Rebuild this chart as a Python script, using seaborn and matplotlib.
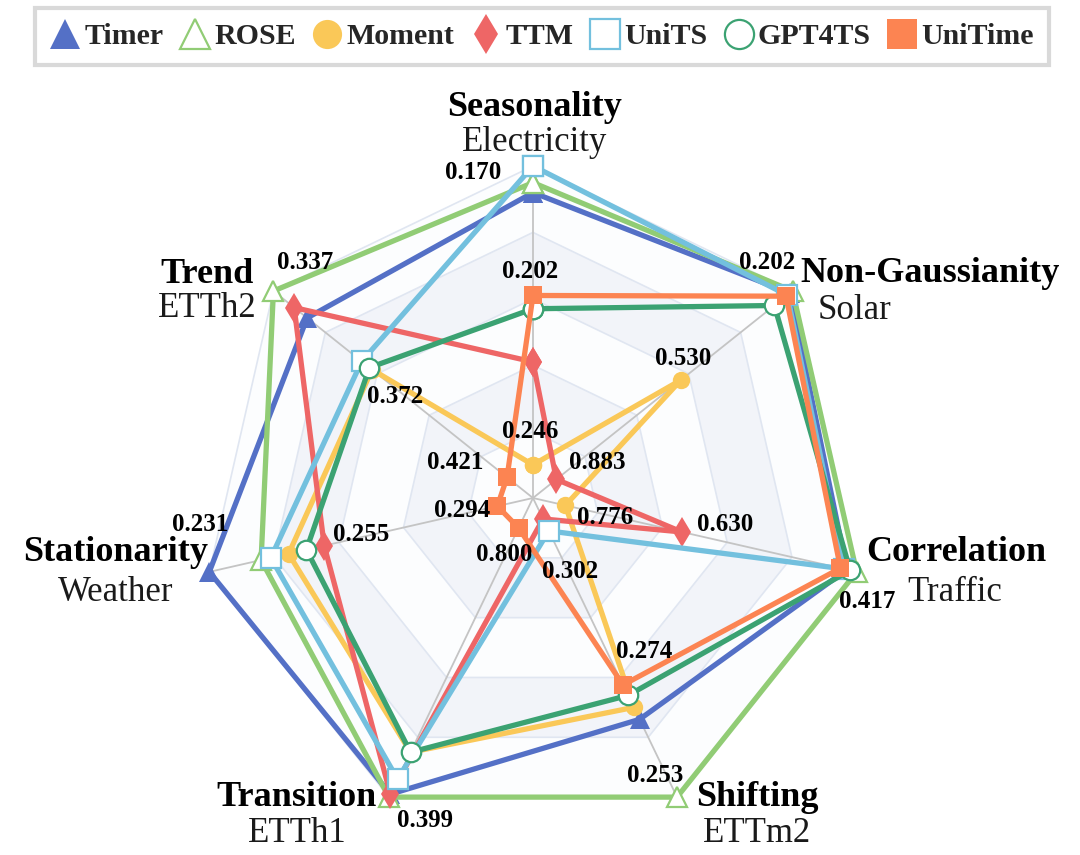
import numpy as np
import pandas as pd
import seaborn as sns
import matplotlib.pyplot as plt
from matplotlib.lines import Line2D

# axes of the radar, clockwise from the top
dims = ["Seasonality", "Non-Gaussianity", "Correlation", "Shifting",
        "Transition", "Stationarity", "Trend"]
datasets = ["Electricity", "Solar", "Traffic", "ETTm2", "ETTh1", "Weather", "ETTh2"]

# normalised score per axis (1 = best, outer ring)
models = ["Timer", "ROSE", "Moment", "TTM", "UniTS", "GPT4TS", "UniTime"]
timer = [0.92, 0.99, 0.97, 0.74, 0.99, 1.00, 0.87]
rose = [0.95, 1.00, 1.00, 1.00, 1.00, 0.84, 1.00]
moment = [0.10, 0.57, 0.10, 0.70, 0.85, 0.755, 0.62]
ttm = [0.41, 0.09, 0.46, 0.07, 0.99, 0.645, 0.92]
units = [1.00, 0.98, 0.96, 0.11, 0.94, 0.81, 0.66]
gpt4ts = [0.57, 0.93, 0.98, 0.66, 0.85, 0.70, 0.63]
unitime = [0.61, 0.975, 0.95, 0.625, 0.10, 0.11, 0.10]
scores = [timer, rose, moment, ttm, units, gpt4ts, unitime]

# MSE labels shown on each axis
tick_text = [
    ["0.170", "0.202", "0.246"],
    ["0.202", "0.530", "0.883"],
    ["0.417", "0.630", "0.776"],
    ["0.253", "0.274", "0.302"],
    ["0.399", "0.800"],
    ["0.231", "0.255", "0.294"],
    ["0.337", "0.372", "0.421"],
]
# where each label sits: radius on its axis + pixel offset
tick_pos = [
    [(1.0, -60, -6), (0.61, -3, 24), (0.10, -3, 33)],
    [(1.0, -25, 29), (0.57, 2, 22), (0.09, 41, 17)],
    [(1.0, 11, -30), (0.46, 43, 7), (0.10, 40, -12)],
    [(1.0, -22, 22), (0.625, 21, 33), (0.11, 21, -41)],
    [(1.0, 36, -23), (0.10, -14, -27)],
    [(1.0, -9, 47), (0.645, 37, 11), (0.11, -35, -4)],
    [(1.0, 32, 29), (0.63, 26, -29), (0.10, -52, 15)],
]
# axis name offsets (bold line, dataset line) from the outer vertex, pixels
name_pos = [
    ((2, 59), (2, 24)),
    ((138, 18), (62, -19)),
    ((100, 19), (98, -21)),
    ((80, 0), (80, -36)),
    ((-92, 0), (-92, -36)),
    ((-94, 19), (-94, -21)),
    ((-66, 17), (-66, -17)),
]

colors = ["#5470c6", "#91cc75", "#fac858", "#ee6666", "#73c0de", "#3ba272", "#fc8452"]
markers = ["^", "^", "o", "d", "s", "o", "s"]
hollow = [False, True, False, False, True, True, False]

sns.set_theme(style="white")
plt.rcParams["font.family"] = ["Liberation Serif", "DejaVu Serif"]

fig = plt.figure(figsize=(10.8, 8.55), dpi=100)
ax = fig.add_axes([0.1861, 0.02924, 0.6148, 0.7766], projection="polar")
ax.set_theta_offset(np.pi / 2)
ax.set_theta_direction(-1)

n = len(dims)
angles = np.linspace(0, 2 * np.pi, n, endpoint=False)
closed = np.append(angles, 2 * np.pi)

# background bands and rings
levels = [0.2, 0.4, 0.6, 0.8, 1.0]
band = ["#fcfdfe", "#f2f4f9"]
for i in range(len(levels) - 1, -1, -1):
    ax.fill(closed, [levels[i]] * (n + 1), color=band[i % 2], lw=0, zorder=0)
for lv in levels:
    ax.plot(closed, [lv] * (n + 1), color="#e0e6f1", lw=1.2, zorder=1)
for a in angles:
    ax.plot([a, a], [0, 1], color="#c4c4c4", lw=1.3, zorder=1)

for i, (name, vals) in enumerate(zip(models, scores)):
    df = pd.DataFrame({"theta": closed, "r": vals + [vals[0]]})
    ms = 14 if hollow[i] else 12.5
    if markers[i] == "^":
        ms = 15
    if markers[i] == "d":
        ms = 15.5
    sns.lineplot(data=df, x="theta", y="r", ax=ax, sort=False, estimator=None,
                 color=colors[i], linewidth=3.8, marker=markers[i], markersize=ms,
                 markerfacecolor="white" if hollow[i] else colors[i],
                 markeredgecolor=colors[i], markeredgewidth=1.6 if hollow[i] else 0,
                 clip_on=False, zorder=3 + i, legend=False)

ax.set_ylim(0, 1)
ax.axis("off")

# tick values
for k in range(n):
    for txt, (r, dx, dy) in zip(tick_text[k], tick_pos[k]):
        ax.annotate(txt, (angles[k], r), xytext=(dx, dy), textcoords="offset pixels",
                    ha="center", va="center", fontsize=18, fontweight="bold",
                    color="black", zorder=20, annotation_clip=False)

# axis names
for k in range(n):
    (bx, by), (sx, sy) = name_pos[k]
    ax.annotate(dims[k], (angles[k], 1.0), xytext=(bx, by), textcoords="offset pixels",
                ha="center", va="center", fontsize=26, fontweight="bold",
                color="black", zorder=20, annotation_clip=False)
    ax.annotate(datasets[k], (angles[k], 1.0), xytext=(sx, sy), textcoords="offset pixels",
                ha="center", va="center", fontsize=25, color="#1a1a1a",
                zorder=20, annotation_clip=False)

# legend
handles = [Line2D([], [], ls="none", marker=markers[i], markersize=21 if markers[i] != "d" else 20,
                  markerfacecolor="white" if hollow[i] else colors[i],
                  markeredgecolor=colors[i], markeredgewidth=1.6 if hollow[i] else 0)
           for i in range(len(models))]
leg = fig.legend(handles, models, loc="center", bbox_to_anchor=(0.502, 0.957), ncol=7,
                 frameon=True, fancybox=False, handlelength=1.0, handletextpad=0.15,
                 columnspacing=0.55, borderpad=0.5,
                 prop={"family": "Liberation Serif", "weight": "bold", "size": 21.5})
leg.get_frame().set_edgecolor("#d0d0d0")
leg.get_frame().set_linewidth(3)

fig.savefig("out.png", dpi=100)
